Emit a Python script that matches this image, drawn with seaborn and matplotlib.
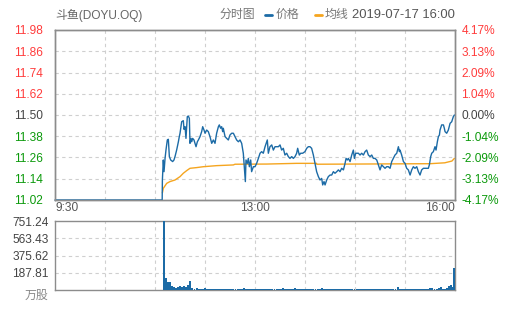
import matplotlib
matplotlib.use("Agg")
import matplotlib.pyplot as plt
from matplotlib.lines import Line2D
import seaborn as sns
import pandas as pd

sns.set_style("white")
plt.rcParams['font.family'] = ['Liberation Sans', 'Noto Sans CJK SC', 'DejaVu Sans']

# ---------------- data ----------------
title = "斗鱼(DOYU.OQ)"
stamp = "2019-07-17 16:00"
prev_close = 11.50
price_ticks = [11.02, 11.14, 11.26, 11.38, 11.50, 11.62, 11.74, 11.86, 11.98]
pct_labels = ["-4.17%", "-3.13%", "-2.09%", "-1.04%", "0.00%", "1.04%", "2.09%", "3.13%", "4.17%"]
vol_ticks = [0, 187.81, 375.62, 563.43, 751.24]
vol_labels = ["万股", "187.81", "375.62", "563.43", "751.24"]
time_labels = ["9:30", "13:00", "16:00"]

# minutes after 9:30
price_minutes = [0, 104.5, 104.7, 105.6, 106.3, 107.3, 108.2, 109.5, 110.5, 111.5, 112.8,
                 114.7, 116.0, 117.0, 118.6, 120.3, 121.2, 121.9, 123.5, 125.1, 125.8,
                 126.8, 127.7, 129.0, 130.0, 131.0, 131.6, 132.6, 133.3, 134.2, 135.5,
                 136.5, 137.5, 138.8, 139.8, 141.4, 143.0, 144.0, 145.3, 146.3, 147.9,
                 149.5, 151.1, 152.8, 154.4, 156.0, 157.6, 159.3, 160.2, 161.5, 162.5,
                 163.5, 164.1, 165.8, 167.4, 169.0, 170.6, 172.3, 173.9, 175.5, 177.1,
                 178.8, 180.4, 182.0, 183.6, 184.6, 185.6, 186.2, 187.5, 188.5, 189.5,
                 190.8, 191.7, 193.4, 195.0, 196.6, 198.3, 199.9, 201.5, 203.1, 204.8,
                 206.4, 207.0, 208.0, 209.6, 211.3, 212.9, 214.5, 217.8, 219.4, 221.0,
                 222.6, 224.2, 225.9, 227.5, 229.1, 230.8, 232.4, 234.0, 235.6, 236.6,
                 238.2, 239.5, 241.5, 243.7, 245.4, 247.0, 248.6, 250.2, 251.9, 253.5,
                 255.1, 256.8, 258.4, 260.0, 261.0, 262.3, 263.3, 264.9, 266.5, 268.2,
                 269.8, 271.4, 273.0, 274.7, 276.3, 277.9, 279.5, 281.2, 282.8, 283.8,
                 285.1, 286.0, 287.7, 289.3, 290.9, 291.9, 293.2, 295.8, 297.4, 299.0,
                 300.7, 302.3, 303.9, 305.5, 307.2, 308.8, 310.4, 312.0, 313.7, 315.3,
                 316.9, 318.5, 320.2, 321.8, 323.4, 325.0, 326.7, 328.3, 329.9, 331.5,
                 333.2, 334.8, 335.8, 336.4, 338.0, 339.7, 341.3, 342.9, 344.5, 346.2,
                 347.8, 349.4, 351.0, 352.7, 354.3, 355.9, 357.5, 359.2, 364.0, 365.0,
                 366.3, 367.3, 368.9, 370.5, 371.5, 372.8, 373.8, 374.8, 375.4, 377.0,
                 378.7, 379.6, 380.3, 381.9, 383.5, 385.2, 386.8, 388.4, 389.4]
prices = [11.02, 11.02, 11.133, 11.246, 11.180, 11.255, 11.302, 11.359, 11.363, 11.265, 11.246,
          11.237, 11.246, 11.265, 11.302, 11.349, 11.378, 11.397, 11.462, 11.468, 11.419,
          11.434, 11.368, 11.491, 11.494, 11.481, 11.340, 11.368, 11.349, 11.368, 11.359,
          11.340, 11.321, 11.349, 11.359, 11.378, 11.406, 11.434, 11.415, 11.397, 11.415,
          11.406, 11.378, 11.340, 11.359, 11.340, 11.397, 11.434, 11.444, 11.425, 11.434,
          11.406, 11.425, 11.378, 11.368, 11.359, 11.387, 11.397, 11.397, 11.378, 11.359,
          11.349, 11.359, 11.340, 11.284, 11.208, 11.124, 11.246, 11.227, 11.255, 11.208,
          11.246, 11.180, 11.208, 11.208, 11.227, 11.255, 11.284, 11.293, 11.284, 11.321,
          11.349, 11.359, 11.284, 11.321, 11.331, 11.302, 11.321, 11.321, 11.331, 11.302,
          11.312, 11.274, 11.284, 11.265, 11.255, 11.265, 11.255, 11.265, 11.284, 11.312,
          11.274, 11.284, 11.284, 11.293, 11.312, 11.321, 11.321, 11.312, 11.274, 11.227,
          11.180, 11.152, 11.133, 11.142, 11.105, 11.124, 11.105, 11.133, 11.152, 11.161,
          11.161, 11.180, 11.171, 11.180, 11.190, 11.180, 11.199, 11.190, 11.227, 11.255,
          11.246, 11.255, 11.237, 11.274, 11.302, 11.255, 11.284, 11.284, 11.274, 11.284,
          11.274, 11.293, 11.302, 11.274, 11.265, 11.274, 11.255, 11.255, 11.246, 11.218,
          11.190, 11.218, 11.208, 11.199, 11.208, 11.208, 11.199, 11.237, 11.255, 11.274,
          11.284, 11.321, 11.293, 11.302, 11.274, 11.237, 11.227, 11.199, 11.190, 11.161,
          11.190, 11.208, 11.199, 11.208, 11.180, 11.161, 11.190, 11.199, 11.199, 11.218,
          11.265, 11.284, 11.293, 11.321, 11.302, 11.349, 11.378, 11.387, 11.415, 11.444,
          11.444, 11.425, 11.406, 11.397, 11.415, 11.453, 11.462, 11.491, 11.500]

avg_minutes = [104.7, 105.6, 108.9, 112.1, 117.0, 121.9, 125.1, 128.4, 131.6, 138.1, 144.6,
               157.6, 173.9, 175.5, 206.4, 235.6, 255.0, 255.2, 365.6, 380.0, 387.0, 389.4]
avg_prices = [11.060, 11.086, 11.114, 11.124, 11.133, 11.152, 11.171, 11.186, 11.199, 11.203, 11.208,
              11.214, 11.218, 11.222, 11.223, 11.227, 11.227, 11.222, 11.225, 11.230, 11.240, 11.255]

vol_minutes = list(range(106, 390, 2)) + [389]
volumes = [751.24, 134, 91, 91, 44, 33, 25, 33, 44, 38,
           47, 38, 54, 98, 22, 15, 18, 12, 15, 12,
           18, 10, 12, 9, 12, 8, 11, 12, 8, 10,
           7, 10, 9, 11, 8, 10, 7, 10, 9, 22,
           10, 8, 11, 8, 9, 8, 10, 7, 10, 8,
           11, 8, 10, 9, 10, 8, 11, 8, 18, 8,
           10, 9, 10, 8, 18, 8, 10, 7, 10, 15,
           8, 10, 9, 10, 8, 11, 8, 18, 8, 10,
           8, 10, 7, 10, 9, 10, 8, 11, 8, 10,
           9, 10, 8, 10, 7, 10, 8, 11, 8, 10,
           8, 10, 9, 10, 8, 11, 8, 10, 7, 10,
           8, 10, 9, 10, 36, 8, 10, 8, 11, 8,
           10, 8, 11, 8, 10, 9, 10, 8, 10, 12,
           25, 22, 12, 15, 22, 33, 15, 12, 18, 45,
           50, 35, 243]

# ---------------- style ----------------
BLUE = '#1c6ba6'
ORANGE = '#f5a51f'
RED = '#ff3c3c'
GREEN = '#0c9a0c'
DARK = '#444444'
GRID = '#cfcfcf'
FRAME = '#8c8c8c'
FS = 8.6

W, H = 505, 310
fig = plt.figure(figsize=(W / 100, H / 100), dpi=100)
fig.patch.set_facecolor('white')

def fx(x): return x / W
def fy(y): return 1 - y / H

ax1 = fig.add_axes([fx(55), fy(200), 400 / W, 170 / H])
ax2 = fig.add_axes([fx(55), fy(290), 400 / W, 69 / H])

# price panel
df_p = pd.DataFrame({"m": price_minutes, "p": prices})
df_a = pd.DataFrame({"m": avg_minutes, "p": avg_prices})
sns.lineplot(data=df_p, x="m", y="p", ax=ax1, color=BLUE, lw=1.0, sort=False,
             estimator=None, zorder=4, clip_on=False)
sns.lineplot(data=df_a, x="m", y="p", ax=ax1, color=ORANGE, lw=1.0, sort=False,
             estimator=None, zorder=3)

ax1.set_xlim(0, 390)
ax1.set_ylim(price_ticks[0], price_ticks[-1])
ax1.set_yticks(price_ticks)
ax1.set_yticklabels([f"{v:.2f}" for v in price_ticks])
ax1.set_xticks([])
ax1.set_xlabel("")
ax1.set_ylabel("")
for t in price_ticks[1:-1]:
    ax1.axhline(t, color=GRID, lw=0.8, ls=(0, (3, 3)), zorder=1)
vgrid = [390 / 8 * k for k in range(1, 8)]
for v in vgrid:
    ax1.axvline(v, color=GRID, lw=0.8, ls=(0, (3, 3)), zorder=1)
ax1.tick_params(axis='y', length=0, pad=8.5, labelsize=FS)
for lab, v in zip(ax1.get_yticklabels(), price_ticks):
    lab.set_color(RED if v > prev_close + 1e-9 else (GREEN if v < prev_close - 1e-9 else DARK))

axr = ax1.twinx()
axr.set_ylim(price_ticks[0], price_ticks[-1])
axr.set_yticks(price_ticks)
axr.set_yticklabels(pct_labels)
axr.tick_params(axis='y', length=0, pad=4.5, labelsize=FS)
for lab, v in zip(axr.get_yticklabels(), price_ticks):
    lab.set_color(RED if v > prev_close + 1e-9 else (GREEN if v < prev_close - 1e-9 else DARK))

for a in (ax1, axr, ax2):
    for s in a.spines.values():
        s.set_color(FRAME)
        s.set_linewidth(1.0)

# volume panel
ax2.bar(vol_minutes, volumes, width=1.9, color=BLUE, linewidth=0, zorder=3)
ax2.set_xlim(0, 390)
ax2.set_ylim(0, vol_ticks[-1])
ax2.set_yticks(vol_ticks)
ax2.set_yticklabels(vol_labels)
ax2.set_xticks([])
for t in vol_ticks[1:-1]:
    ax2.axhline(t, color=GRID, lw=0.8, ls=(0, (3, 3)), zorder=1)
for v in vgrid:
    ax2.axvline(v, color=GRID, lw=0.8, ls=(0, (3, 3)), zorder=1)
ax2.tick_params(axis='y', length=0, pad=4.5, labelsize=FS, labelcolor=DARK)
ax2.get_yticklabels()[0].set_color('#888888')
ax2.get_yticklabels()[0].set_va('top')

# time labels
fig.text(fx(55), fy(208), time_labels[0], ha='left', va='center', fontsize=FS, color='#555555')
fig.text(fx(255), fy(208), time_labels[1], ha='center', va='center', fontsize=FS, color='#555555')
fig.text(fx(455), fy(208), time_labels[2], ha='right', va='center', fontsize=FS, color='#555555')

# header
fig.text(fx(55), fy(15), title, ha='left', va='center', fontsize=FS, color='#666666')
fig.text(fx(220), fy(15), "分时图", ha='left', va='center', fontsize=FS, color='#777777')
fig.add_artist(Line2D([fx(265), fx(272)], [fy(15), fy(15)], color=BLUE, lw=2))
fig.text(fx(276), fy(15), "价格", ha='left', va='center', fontsize=FS, color='#777777')
fig.add_artist(Line2D([fx(315), fx(322)], [fy(15), fy(15)], color=ORANGE, lw=2))
fig.text(fx(325), fy(15), "均线", ha='left', va='center', fontsize=FS, color='#777777')
fig.text(fx(455), fy(15), stamp, ha='right', va='center', fontsize=9.4, color='#555555')

fig.savefig("out.png", dpi=100, facecolor='white')
